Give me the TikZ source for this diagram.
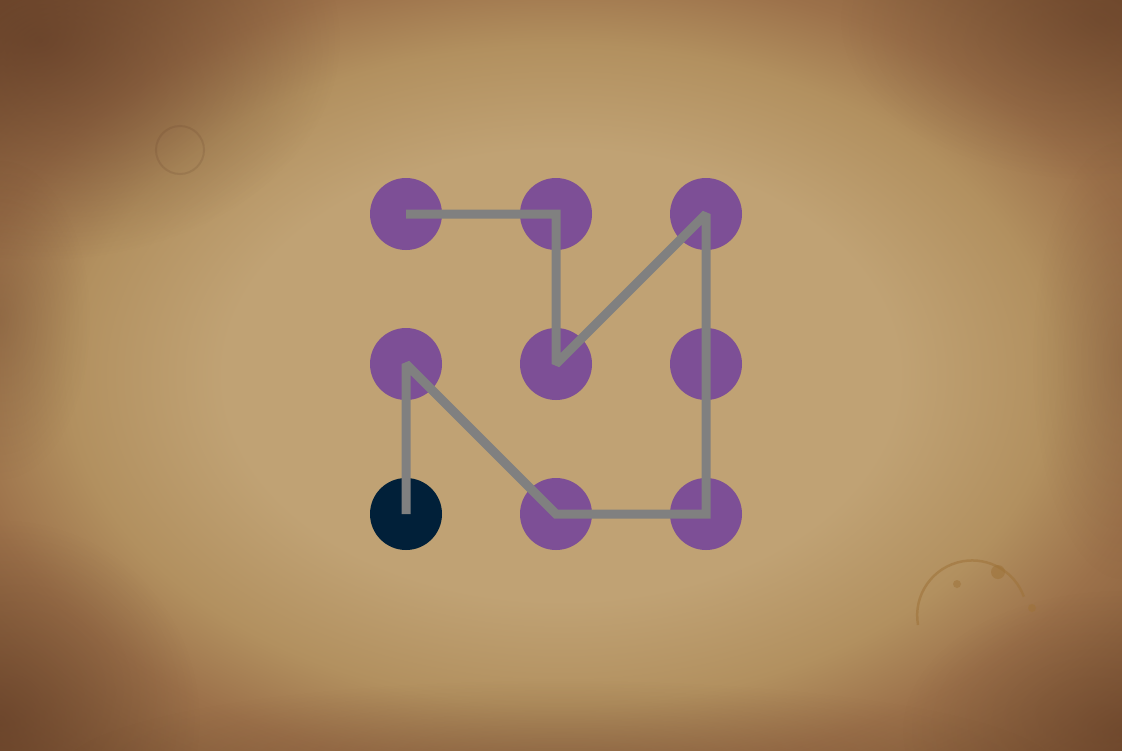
\documentclass[tikz,border=0pt]{standalone}
\usetikzlibrary{fadings}
\definecolor{pcenter}{HTML}{C0A274}
\definecolor{pmid}{HTML}{B2905F}
\definecolor{pedge}{HTML}{9C714A}
\definecolor{pdark}{HTML}{7A5232}
\definecolor{stain}{HTML}{5A3522}
\definecolor{ring}{HTML}{9E7238}
\definecolor{dotpurple}{HTML}{7D4F96}
\definecolor{dotdark}{HTML}{012039}
\definecolor{linkgray}{HTML}{808080}
\pgfdeclareradialshading{parch}{\pgfpoint{0bp}{0bp}}{color(0bp)=(pcenter); color(15bp)=(pcenter); color(22bp)=(pmid); color(27bp)=(pedge); color(36bp)=(pdark); color(50bp)=(pdark)}
\tikzfading[name=soft, inner color=transparent!0, outer color=transparent!100]
\tikzset{
  dot/.style={circle, fill=dotpurple, minimum size=72pt, inner sep=0pt, draw=none},
  enddot/.style={dot, fill=dotdark},
  link/.style={draw=linkgray, line width=9pt, line cap=butt, line join=miter, miter limit=2},
  blot/.style={fill=stain, path fading=soft}
}
\begin{document}
\begin{tikzpicture}[x=1pt, y=-1pt]
\useasboundingbox (0,0) rectangle (1122,750);
% parchment background
\shade[shading=parch] (0,0) rectangle (1122,750);
\fill[blot, opacity=0.6] (40,40) ellipse (300pt and 220pt);
\fill[blot, opacity=0.5] (0,720) ellipse (200pt and 200pt);
\fill[blot, opacity=0.4] (1100,20) ellipse (260pt and 160pt);
\fill[blot, opacity=0.4] (1122,730) ellipse (220pt and 140pt);
\fill[blot, opacity=0.3] (560,770) ellipse (500pt and 90pt);
\fill[blot, opacity=0.25] (0,320) ellipse (90pt and 160pt);
\fill[blot, opacity=0.2] (1122,360) ellipse (90pt and 220pt);
% coffee ring
\draw[ring, line width=2.5pt, opacity=0.55] (918,625) arc[start angle=190, end angle=20, radius=55pt];
\fill[ring, opacity=0.55] (998,572) circle (7pt);
\fill[ring, opacity=0.55] (1032,608) circle (4pt);
\fill[ring, opacity=0.5] (957,584) circle (4pt);
% stain top-left
\draw[stain, line width=2pt, opacity=0.15] (180,150) circle (24pt);
% dots
\node[dot] (a1) at (406,214) {};
\node[dot] (a2) at (556,214) {};
\node[dot] (a3) at (706,214) {};
\node[dot] (b1) at (406,364) {};
\node[dot] (b2) at (556,364) {};
\node[dot] (b3) at (706,364) {};
\node[enddot] (c1) at (406,514) {};
\node[dot] (c2) at (556,514) {};
\node[dot] (c3) at (706,514) {};
% pattern path
\draw[link] (a1.center) -- (a2.center) -- (b2.center) -- (a3.center) -- (c3.center) -- (c2.center) -- (b1.center) -- (c1.center);
\end{tikzpicture}
\end{document}
